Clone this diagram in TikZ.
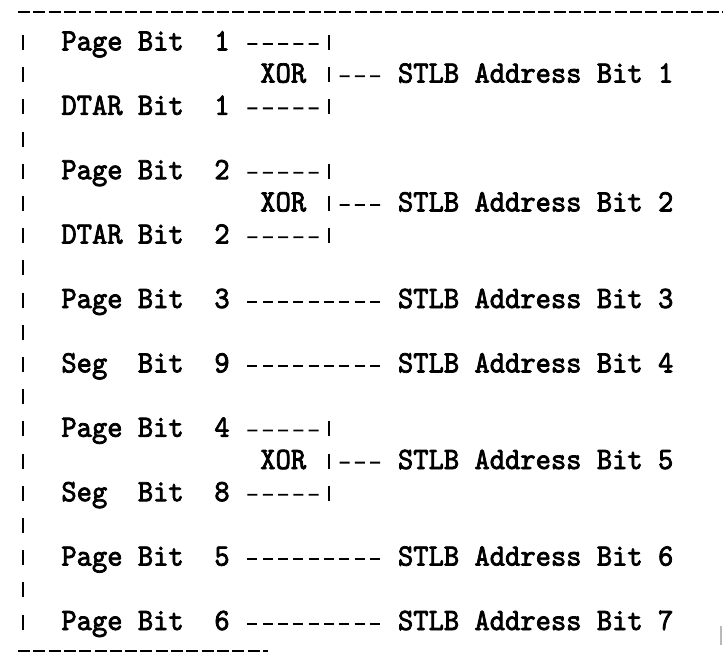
\documentclass[tikz,border=0pt]{standalone}
\usepackage{fontspec}
\newfontfamily\twfam{lmmono10-regular}[Extension=.otf, FakeBold=2.4, FakeStretch=0.94]
\newcommand{\twfont}{\fontsize{31bp}{34bp}\selectfont\twfam}
\begin{document}
\begin{tikzpicture}[x=1bp,y=-1bp,
  lbl/.style={anchor=base west, inner sep=0pt, outer sep=0pt, font=\twfont},
  hyph/.style={line width=1.8bp, dash pattern=on 10bp off 5.3bp},
  barline/.style={line width=1.6bp, dash pattern=on 15bp off 17.2bp},
  rule/.style={line width=1.5bp, dash pattern=on 12bp off 3.3bp}]
\useasboundingbox (0,0) rectangle (723,662);
\fill[white] (0,0) rectangle (723,662);

% frame
\draw[rule] (18,12) -- (723,12);
\draw[rule] (18,651) -- (268,651);
\draw[barline] (23,35) -- (23,629.6);
\draw[gray!55, line width=2bp] (721,626) -- (721,645);

% labels
\node[lbl] (p1) at (61.4,50.4) {Page Bit\ \ 1};
\node[lbl] (x1) at (260.3,82.6) {XOR};
\node[lbl] (d1) at (61.4,114.8) {DTAR Bit\ \ 1};
\node[lbl] (o1) at (398,82.6) {STLB Address Bit 1};

\node[lbl] (p2) at (61.4,179.2) {Page Bit\ \ 2};
\node[lbl] (x2) at (260.3,211.4) {XOR};
\node[lbl] (d2) at (61.4,243.6) {DTAR Bit\ \ 2};
\node[lbl] (o2) at (398,211.4) {STLB Address Bit 2};

\node[lbl] (p3) at (61.4,308) {Page Bit\ \ 3};
\node[lbl] (o3) at (398,308) {STLB Address Bit 3};

\node[lbl] (s9) at (61.4,372.4) {Seg\ \ Bit\ \ 9};
\node[lbl] (o4) at (398,372.4) {STLB Address Bit 4};

\node[lbl] (p4) at (61.4,436.8) {Page Bit\ \ 4};
\node[lbl] (x3) at (260.3,469) {XOR};
\node[lbl] (s8) at (61.4,501.2) {Seg\ \ Bit\ \ 8};
\node[lbl] (o5) at (398,469) {STLB Address Bit 5};

\node[lbl] (p5) at (61.4,565.6) {Page Bit\ \ 5};
\node[lbl] (o6) at (398,565.6) {STLB Address Bit 6};

\node[lbl] (p6) at (61.4,630) {Page Bit\ \ 6};
\node[lbl] (o7) at (398,630) {STLB Address Bit 7};

% junction bars
\coordinate (ja1) at (329,44);
\coordinate (jb1) at (329,76.2);
\coordinate (jc1) at (329,108.4);
\coordinate (ja2) at (329,172.8);
\coordinate (jb2) at (329,205);
\coordinate (jc2) at (329,237.2);
\coordinate (ja3) at (329,430.4);
\coordinate (jb3) at (329,462.6);
\coordinate (jc3) at (329,494.8);

\draw[barline] (329,35) -- (329,114.4);
\draw[barline] (329,163.8) -- (329,243.2);
\draw[barline] (329,421.4) -- (329,500.8);

% XOR groups
\draw[hyph] ([xshift=17.8bp,yshift=6.4bp]p1.base east) -- ([xshift=-10.3bp]ja1);
\draw[hyph] ([xshift=17.8bp,yshift=6.4bp]d1.base east) -- ([xshift=-10.3bp]jc1);
\draw[hyph] ([xshift=10.5bp]jb1) -- ([xshift=-18bp,yshift=6.4bp]o1.base west);

\draw[hyph] ([xshift=17.8bp,yshift=6.4bp]p2.base east) -- ([xshift=-10.3bp]ja2);
\draw[hyph] ([xshift=17.8bp,yshift=6.4bp]d2.base east) -- ([xshift=-10.3bp]jc2);
\draw[hyph] ([xshift=10.5bp]jb2) -- ([xshift=-18bp,yshift=6.4bp]o2.base west);

\draw[hyph] ([xshift=17.8bp,yshift=6.4bp]p4.base east) -- ([xshift=-10.3bp]ja3);
\draw[hyph] ([xshift=17.8bp,yshift=6.4bp]s8.base east) -- ([xshift=-10.3bp]jc3);
\draw[hyph] ([xshift=10.5bp]jb3) -- ([xshift=-18bp,yshift=6.4bp]o5.base west);

% direct lines
\draw[hyph] ([xshift=17.8bp,yshift=6.4bp]p3.base east) -- ([xshift=-18bp,yshift=6.4bp]o3.base west);
\draw[hyph] ([xshift=17.8bp,yshift=6.4bp]s9.base east) -- ([xshift=-18bp,yshift=6.4bp]o4.base west);
\draw[hyph] ([xshift=17.8bp,yshift=6.4bp]p5.base east) -- ([xshift=-18bp,yshift=6.4bp]o6.base west);
\draw[hyph] ([xshift=17.8bp,yshift=6.4bp]p6.base east) -- ([xshift=-18bp,yshift=6.4bp]o7.base west);
\end{tikzpicture}
\end{document}
